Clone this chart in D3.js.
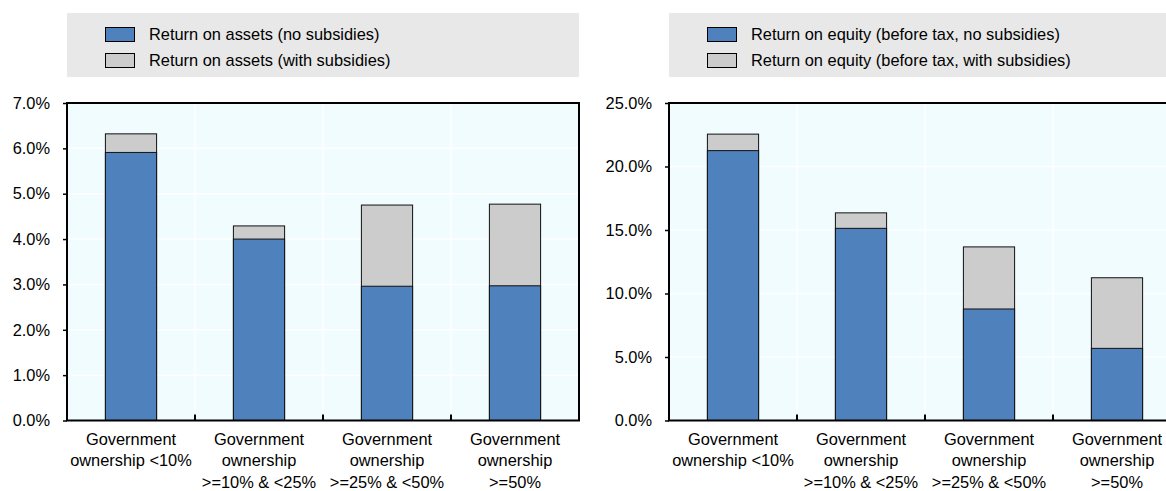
<!DOCTYPE html>
<html><head><meta charset="utf-8">
<script src="https://cdn.jsdelivr.net/npm/d3@7"></script>
<style>
html,body{margin:0;padding:0;background:#fff;}
svg{display:block;font-family:"Liberation Sans",Arial,sans-serif;}
</style></head>
<body>
<svg id="chart" width="1166" height="491"></svg>
<script>
// ---- data ----
const categories = [
  "Government\nownership <10%",
  "Government\nownership\n>=10% & <25%",
  "Government\nownership\n>=25% & <50%",
  "Government\nownership\n>=50%"
];
const roaNoSubsidies   = [5.91, 4.00, 2.96, 2.97];
const roaWithSubsidies = [6.32, 4.29, 4.75, 4.77];
const roeNoSubsidies   = [21.25, 15.13, 8.78, 5.68];
const roeWithSubsidies = [22.55, 16.35, 13.67, 11.24];
const roaTicks = [0, 1, 2, 3, 4, 5, 6, 7];
const roeTicks = [0, 5, 10, 15, 20, 25];
const roaLegend = ["Return on assets (no subsidies)", "Return on assets (with subsidies)"];
const roeLegend = ["Return on equity (before tax, no subsidies)", "Return on equity (before tax, with subsidies)"];

const BLUE = "#4f81bd", GREY = "#cccccc";
const FS = 16.4;
const svg = d3.select("#chart");

function panel(opts) {
  const {left, width, top, bottom, ticks, noSub, withSub, legend} = opts;
  const g = svg.append("g");
  // legend
  g.append("rect").attr("x", left).attr("y", 13).attr("width", width).attr("height", 64).attr("fill", "#e8e8e8");
  const legColors = [BLUE, GREY];
  legend.forEach((t, i) => {
    const yy = 27 + i * 26;
    g.append("rect").attr("x", left + 38.5).attr("y", yy + 0.5).attr("width", 29).attr("height", 14)
      .attr("fill", legColors[i]).attr("stroke", "#000").attr("stroke-width", 1);
    g.append("text").attr("x", left + 82).attr("y", yy + 7.5).attr("dy", "0.35em")
      .attr("font-size", FS).attr("fill", "#000").text(t);
  });

  const x = d3.scaleBand().domain(categories).range([left, left + width]).paddingInner(0).paddingOuter(0);
  const y = d3.scaleLinear().domain([0, d3.max(ticks)]).range([bottom, top]);

  // plot background
  g.append("rect").attr("x", left).attr("y", top).attr("width", width).attr("height", bottom - top).attr("fill", "#f0fcfe");
  // horizontal gridlines
  g.selectAll(".hg").data(ticks).join("line")
    .attr("x1", left).attr("x2", left + width).attr("y1", d => y(d)).attr("y2", d => y(d))
    .attr("stroke", "#fff").attr("stroke-width", 1.5);
  // vertical gridlines at category boundaries
  const bounds = categories.slice(1).map(c => x(c));
  g.selectAll(".vg").data(bounds).join("line")
    .attr("x1", d => d).attr("x2", d => d).attr("y1", top).attr("y2", bottom)
    .attr("stroke", "#fff").attr("stroke-width", 1.5);

  const bw = x.bandwidth() * 0.4;
  // with-subsidies bars (total)
  g.selectAll(".bw").data(withSub).join("rect")
    .attr("x", (d, i) => x(categories[i]) + (x.bandwidth() - bw) / 2)
    .attr("y", d => y(d)).attr("width", bw).attr("height", d => bottom - y(d))
    .attr("fill", GREY).attr("stroke", "#111").attr("stroke-width", 1);
  // no-subsidies bars
  g.selectAll(".bn").data(noSub).join("rect")
    .attr("x", (d, i) => x(categories[i]) + (x.bandwidth() - bw) / 2)
    .attr("y", d => y(d)).attr("width", bw).attr("height", d => bottom - y(d))
    .attr("fill", BLUE).attr("stroke", "#111").attr("stroke-width", 1);

  // y axis
  const yAxis = d3.axisLeft(y).tickValues(ticks).tickSize(4).tickPadding(13).tickFormat(d => d3.format(".1f")(d) + "%");
  const ya = g.append("g").attr("transform", `translate(${left},0)`).call(yAxis);
  ya.select(".domain").remove();
  ya.selectAll("line").attr("stroke", "#000").attr("stroke-width", 1.5);
  ya.selectAll("text").attr("font-size", FS).attr("fill", "#000").attr("font-family", "Liberation Sans, Arial, sans-serif");

  // bottom ticks at boundaries pointing up
  g.selectAll(".bt").data(bounds).join("line")
    .attr("x1", d => d).attr("x2", d => d).attr("y1", bottom).attr("y2", bottom - 6)
    .attr("stroke", "#000").attr("stroke-width", 2);

  // border
  g.append("rect").attr("x", left).attr("y", top).attr("width", width).attr("height", bottom - top)
    .attr("fill", "none").attr("stroke", "#000").attr("stroke-width", 2);

  // x labels
  const xl = g.selectAll(".xl").data(categories).join("text")
    .attr("text-anchor", "middle").attr("font-size", FS).attr("fill", "#000")
    .attr("transform", d => `translate(${x(d) + x.bandwidth() / 2},${bottom})`);
  xl.selectAll("tspan").data(d => d.split("\n")).join("tspan")
    .attr("x", 0).attr("y", (d, i) => 24 + i * 21.5).text(d => d);
}

panel({left: 67, width: 512, top: 103, bottom: 420.5, ticks: roaTicks, noSub: roaNoSubsidies, withSub: roaWithSubsidies, legend: roaLegend});
panel({left: 669, width: 512, top: 103, bottom: 420.5, ticks: roeTicks, noSub: roeNoSubsidies, withSub: roeWithSubsidies, legend: roeLegend});
</script>
</body></html>
